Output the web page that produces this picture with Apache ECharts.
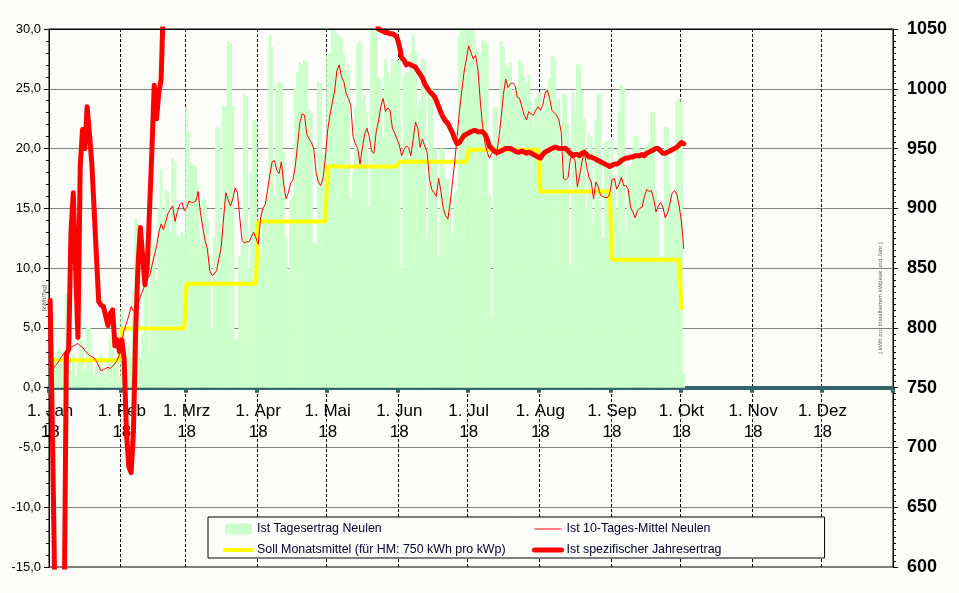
<!DOCTYPE html>
<html>
<head>
<meta charset="utf-8">
<script src="https://cdn.jsdelivr.net/npm/echarts@6/dist/echarts.min.js"></script>
<style>
  html, body { margin: 0; padding: 0; background: #fcfdf8; }
  #chart { width: 959px; height: 593px; }
</style>
</head>
<body>
<div id="chart"></div>
<script>
// Monatsanfaenge (Tag im Jahr 2018) und Beschriftung
const monthNames = ['Jan', 'Feb', 'Mrz', 'Apr', 'Mai', 'Jun', 'Jul', 'Aug', 'Sep', 'Okt', 'Nov', 'Dez'];
const monthStarts = [0, 31, 59, 90, 120, 151, 181, 212, 243, 273, 304, 334];
const yearLabel = '18';

// Ist Tagesertrag Neulen [kWh/Tag], 1. Jan .. 2. Okt
const tagesertrag = [
  // Jan
  1.8, 1.2, 2.6, 3.0, 3.3, 2.0, 3.2, 7.9, 3.5, 1.5, 2.8, 1.0, 2.2, 9.6, 4.0, 1.5, 5.1, 5.0, 2.0, 1.2,
  1.8, 1.0, 2.7, 1.5, 0.8, 2.4, 4.2, 3.5, 2.2, 2.5, 1.0,
  // Feb
  6.5, 2.0, 1.0, 3.5, 2.5, 8.0, 14.2, 7.0, 2.5, 4.5, 9.0, 8.5, 3.0, 12.5, 12.0, 9.0, 15.0, 18.3, 14.0, 16.5,
  16.4, 13.0, 19.2, 18.8, 12.8, 12.5, 13.0, 12.8,
  // Mrz
  23.5, 21.4, 18.7, 18.6, 18.5, 17.0, 12.0, 15.8, 15.7, 14.0, 11.0, 5.0, 12.5, 21.8, 21.7, 13.0, 23.6, 23.5, 29.0, 28.8,
  23.6, 4.0, 4.2, 11.0, 12.0, 24.6, 24.4, 10.0, 18.0, 22.4, 22.3,
  // Apr
  12.5, 11.5, 15.0, 15.5, 16.0, 29.5, 28.5, 16.0, 25.3, 25.6, 25.5, 19.7, 12.6, 9.5, 15.8, 16.0, 25.0, 26.4, 27.2, 27.0,
  27.4, 27.3, 23.2, 23.0, 12.2, 12.0, 25.6, 25.5, 19.6, 19.5,
  // Mai
  27.8, 28.0, 30.0, 30.0, 29.5, 29.5, 29.2, 28.0, 26.5, 27.0, 15.8, 18.0, 23.5, 28.8, 29.0, 24.0, 24.5, 23.0, 15.2, 30.0,
  30.0, 30.0, 26.0, 25.8, 21.0, 27.5, 26.4, 26.0, 27.5, 27.2, 27.4,
  // Jun
  27.4, 10.0, 26.0, 26.4, 26.4, 28.0, 29.6, 28.1, 23.5, 24.0, 27.5, 27.4, 12.5, 24.7, 25.0, 20.0, 20.0, 11.0, 20.0, 20.0,
  17.5, 17.5, 16.0, 12.8, 16.2, 16.5, 29.5, 30.0, 30.0, 30.0,
  // Jul
  30.0, 30.0, 30.0, 28.3, 28.3, 28.0, 29.0, 29.0, 28.8, 16.0, 5.9, 23.5, 23.5, 21.0, 29.0, 28.5, 27.0, 26.8, 27.2, 24.5,
  25.0, 25.2, 27.4, 27.0, 26.0, 25.5, 26.2, 24.0, 21.9, 24.3, 24.6,
  // Aug
  24.6, 23.0, 24.0, 25.0, 25.9, 27.8, 27.5, 24.0, 24.2, 19.0, 24.6, 24.5, 22.0, 10.2, 24.8, 23.2, 27.0, 27.0, 24.9, 22.6,
  15.1, 21.2, 21.0, 14.0, 22.4, 24.6, 24.5, 12.5, 20.5, 20.6, 18.0,
  // Sep
  20.8, 17.5, 15.0, 23.0, 25.3, 25.0, 13.0, 18.6, 18.5, 20.0, 21.1, 21.0, 20.0, 19.5, 20.0, 20.2, 20.5, 23.0, 23.1, 16.5,
  14.5, 10.8, 11.0, 21.8, 21.7, 17.0, 16.0, 15.5, 24.0, 24.2,
  // Okt
  23.8, 1.2
];

// Ist 10-Tages-Mittel Neulen [kWh/Tag]
const mittel10 = [
  // Jan
  1.6, 1.5, 1.8, 2.0, 2.3, 2.6, 2.9, 3.0, 3.2, 3.3, 3.5, 3.6, 3.7, 3.5, 3.4, 3.1, 2.9, 2.7, 2.6, 2.5,
  2.2, 1.8, 1.4, 1.5, 1.6, 1.7, 1.6, 1.8, 2.0, 2.3, 2.8,
  // Feb
  3.8, 4.8, 5.4, 6.0, 6.8, 6.4, 6.5, 7.0, 7.6, 8.1, 8.6, 9.2, 9.3, 10.2, 11.0, 11.8, 13.0, 13.7, 13.2, 13.9,
  14.6, 14.9, 15.2, 13.9, 14.7, 15.3, 15.5, 14.8,
  // Mrz
  15.0, 15.6, 15.5, 15.5, 15.6, 16.4, 14.6, 13.4, 12.3, 11.6, 9.8, 9.4, 9.5, 9.8, 10.8, 11.8, 14.2, 16.3, 15.7, 15.2,
  15.8, 16.7, 16.3, 14.2, 12.3, 12.1, 12.2, 12.2, 12.6, 13.0, 12.5,
  // Apr
  12.0, 14.2, 15.0, 15.3, 16.5, 17.8, 18.9, 19.0, 18.2, 17.9, 18.9, 17.0, 15.8, 16.3, 17.1, 17.4, 18.5, 20.3, 22.2, 22.9,
  22.8, 21.2, 20.8, 20.5, 20.0, 18.0, 17.2, 16.9, 17.5, 19.2,
  // Mai
  21.5, 22.8, 23.8, 24.8, 26.5, 27.0, 26.0, 25.6, 24.6, 24.2, 23.6, 21.0, 20.4, 20.0, 18.7, 20.0, 21.2, 21.7, 21.0, 19.8,
  19.6, 21.4, 22.3, 23.5, 24.2, 23.1, 23.4, 23.2, 21.7, 21.3, 20.8,
  // Jun
  20.3, 19.4, 19.9, 20.2, 20.1, 19.4, 20.8, 22.2, 21.7, 20.1, 20.8, 20.2, 19.7, 17.5, 16.6, 16.3, 16.0, 17.5, 16.4, 15.0,
  14.4, 14.1, 15.5, 17.2, 19.0, 21.0, 23.1, 24.8, 26.4, 27.5,
  // Jul
  28.6, 28.0, 27.5, 27.8, 26.6, 24.0, 21.9, 20.5, 19.7, 19.2, 19.6, 20.0, 19.4, 20.8, 22.5, 24.5, 25.8, 25.1, 25.4, 25.5,
  25.3, 24.3, 24.2, 23.5, 22.8, 22.4, 23.1, 22.9, 22.8, 23.2, 23.5,
  // Aug
  23.2, 23.6, 24.6, 24.9, 24.2, 23.2, 23.0, 22.8, 22.4, 21.4, 17.5, 17.4, 17.6, 19.2, 19.3, 19.0, 16.8, 17.8, 18.9, 19.7,
  18.5, 17.6, 17.2, 15.8, 17.2, 16.8, 16.1, 16.0, 15.9, 15.9, 16.2,
  // Sep
  17.4, 17.5, 16.6, 17.0, 17.6, 16.9, 16.9, 16.6, 15.1, 14.7, 14.2, 14.8, 15.0, 15.1, 16.0, 16.6, 16.4, 16.5, 15.8, 14.7,
  15.2, 15.5, 15.1, 14.2, 14.6, 15.4, 16.3, 16.5, 16.2, 15.2,
  // Okt
  13.9, 11.6
];

// Soll Monatsmittel [kWh/Tag], Jan .. Okt (Okt nur bis 1. Okt)
const sollMonat = [2.3, 4.95, 8.7, 13.9, 18.5, 18.9, 19.9, 16.4, 10.7, 6.5];
const sollLastDay = 273;

// Ist spezifischer Jahresertrag [kWh/kWp], null = ausserhalb des Bildes
const jahresertrag = [
  // Jan
  823, 710, 580, 480, null, null, 540, 778, 782, 880, 913, 850, 792, 935, 966, 950, 985, 962, 938, 900,
  860, 822, 819, 818, 810, 802, 812, 815, 785, 790, 780,
  // Feb
  790, 774, 712, 684, 679, 712, 800, 852, 884, 860, 836, 852, 900, 948, 1003, 975, 997, 1008, 1075, null,
  null, null, null, null, null, null, null, null,
  // Mrz
  null, null, null, null, null, null, null, null, null, null, null, null, null, null, null, null, null, null, null, null,
  null, null, null, null, null, null, null, null, null, null, null,
  // Apr
  null, null, null, null, null, null, null, null, null, null, null, null, null, null, null, null, null, null, null, null,
  null, null, null, null, null, null, null, null, null, null,
  // Mai
  null, null, null, null, null, null, null, null, null, null, null, null, null, null, null, null, null, null, null, null,
  null, 1058, 1050, 1049, 1048, 1047, 1047, 1046, 1046, 1045, 1043,
  // Jun
  1036, 1026, 1024, 1020, 1021, 1020, 1019, 1018, 1015, 1012, 1009, 1004, 1001, 998, 996, 994, 990, 985, 980, 976,
  973, 971, 967, 963, 958, 954, 955, 958, 961, 962,
  // Jul
  963, 964, 965, 965, 964, 964, 964, 962, 958, 952, 950, 948, 947, 947, 948, 949, 950, 950, 950, 949,
  948, 947, 947, 948, 947, 946, 947, 946, 945, 944, 943,
  // Aug
  942, 945, 947, 948, 949, 950, 951, 951, 950, 950, 950, 950, 948, 946, 944, 945, 945, 944, 946, 947,
  945, 943, 943, 942, 941, 940, 939, 938, 937, 936, 935,
  // Sep
  936, 937, 937, 938, 940, 941, 942, 942, 943, 943, 944, 944, 944, 945, 944, 946, 947, 948, 949, 950,
  950, 948, 946, 946, 947, 948, 949, 950, 951, 953,
  // Okt
  955, 954
];

const tagName = 'Ist Tagesertrag Neulen';
const mittelName = 'Ist 10-Tages-Mittel Neulen';
const sollName = 'Soll Monatsmittel (für HM: 750 kWh pro kWp)';
const jahrName = 'Ist spezifischer Jahresertrag';

// Tage 2018 als Kategorien
const days = [];
for (let i = 0; i < 365; i++) {
  const d = new Date(2018, 0, 1 + i);
  days.push(d.getFullYear() + '-' + (d.getMonth() + 1) + '-' + d.getDate());
}

// Soll je Tag aus den Monatswerten
const sollDaily = [];
for (let i = 0; i <= sollLastDay; i++) {
  let m = 0;
  while (m + 1 < monthStarts.length && monthStarts[m + 1] <= i) m++;
  sollDaily.push(sollMonat[m]);
}

const isMonthStart = (index) => monthStarts.indexOf(index) >= 0;
const font = "'Liberation Sans', Arial, sans-serif";
const legendText = { fontFamily: font, fontSize: 12.4, color: '#000033' };
const noSymbol = { opacity: 0 };

const chart = echarts.init(document.getElementById('chart'));
chart.setOption({
  animation: false,
  backgroundColor: '#fcfdf8',
  textStyle: { fontFamily: font },
  grid: {
    left: 49, right: 66, top: 29, bottom: 26,
    containLabel: false,
    outerBoundsMode: 'none',
    show: true, borderColor: '#000', borderWidth: 1, backgroundColor: 'transparent'
  },
  legend: [
    {
      // linke Spalte mit Rahmen ueber die ganze Legende
      left: 208, top: 517,
      orient: 'vertical',
      padding: [6, 319, 2, 15],
      itemGap: 9,
      itemWidth: 27,
      itemHeight: 11,
      selectedMode: false,
      backgroundColor: '#fdfefb',
      borderColor: '#000',
      borderWidth: 1,
      data: [
        { name: tagName },
        { name: sollName, itemStyle: noSymbol, lineStyle: { width: 4, cap: 'round' } }
      ],
      textStyle: legendText
    },
    {
      left: 532, top: 517,
      orient: 'vertical',
      padding: [6, 0, 2, 0],
      itemGap: 9,
      itemWidth: 27,
      itemHeight: 11,
      selectedMode: false,
      data: [
        { name: mittelName, itemStyle: noSymbol, lineStyle: { width: 1 } },
        { name: jahrName, itemStyle: noSymbol, lineStyle: { width: 5, cap: 'round' } }
      ],
      textStyle: legendText
    }
  ],
  xAxis: [
    {
      type: 'category',
      data: days,
      boundaryGap: true,
      axisLine: { onZero: true, lineStyle: { color: '#336666', width: 4 } },
      axisTick: { show: true, interval: isMonthStart, length: 5, lineStyle: { color: '#336666', width: 4 } },
      axisLabel: { show: false },
      splitLine: { show: true, interval: isMonthStart, lineStyle: { color: '#000', type: [3, 2], width: 1 } }
    },
    {
      type: 'category',
      data: days,
      position: 'top',
      z: 10,
      axisLine: { show: true, onZero: false, lineStyle: { color: '#000', width: 1 } },
      axisTick: { show: false },
      axisLabel: { show: false },
      splitLine: { show: false }
    },
    {
      // Beschriftung an der Nulllinie
      type: 'category',
      data: days,
      position: 'bottom',
      offset: -179.4,
      axisLine: { show: false, onZero: false },
      axisTick: { show: false },
      axisLabel: {
        interval: isMonthStart,
        formatter: (value, index) => '1. ' + monthNames[monthStarts.indexOf(index)] + '\n' + yearLabel,
        margin: 13, fontSize: 17, lineHeight: 21, color: '#000', fontFamily: font
      },
      splitLine: { show: false }
    }
  ],
  yAxis: [
    {
      type: 'value', min: -15, max: 30, interval: 5, position: 'left',
      name: '[kWh/Tag]', nameLocation: 'middle', nameRotate: 90, nameGap: 2, nameMoveOverlap: false,
      nameTextStyle: { fontSize: 6, color: '#556' },
      axisLine: { show: true, onZero: false, lineStyle: { color: '#000' } },
      axisTick: { show: true, length: 5, lineStyle: { color: '#000' } },
      minorTick: { show: true, splitNumber: 5, length: 3, lineStyle: { color: '#000' } },
      axisLabel: {
        formatter: (v) => v.toFixed(1).replace('.', ','),
        fontSize: 13, color: '#000', margin: 8, fontFamily: font
      },
      splitLine: { show: true, lineStyle: { color: '#808080', width: 1 } }
    },
    {
      type: 'value', min: 600, max: 1050, interval: 50, position: 'right',
      name: '[ kWh pro Installiertem kWpeak und Jahr ]', nameLocation: 'middle', nameRotate: 90, nameGap: -16,
      nameMoveOverlap: false,
      nameTextStyle: { fontSize: 6, color: '#665' },
      axisLine: { show: true, onZero: false, lineStyle: { color: '#000' } },
      axisTick: { show: true, length: 5, lineStyle: { color: '#000' } },
      minorTick: { show: true, splitNumber: 10, length: 3, lineStyle: { color: '#000' } },
      axisLabel: { formatter: (v) => String(v), fontSize: 18, fontWeight: 'bold', color: '#000', margin: 14, fontFamily: font },
      splitLine: { show: false }
    }
  ],
  series: [
    {
      name: tagName,
      type: 'bar',
      data: tagesertrag,
      barWidth: 2.9,
      itemStyle: { color: '#ccffcc' },
      z: 1
    },
    {
      name: sollName,
      type: 'line',
      data: sollDaily,
      symbol: 'none',
      lineStyle: { color: '#ffff00', width: 4 },
      itemStyle: { color: '#ffff00' },
      z: 3
    },
    {
      name: mittelName,
      type: 'line',
      data: mittel10,
      symbol: 'none',
      lineStyle: { color: '#ff0000', width: 1 },
      itemStyle: { color: '#ff0000' },
      z: 4
    },
    {
      name: jahrName,
      type: 'line',
      yAxisIndex: 1,
      data: jahresertrag,
      symbol: 'none',
      lineStyle: { color: '#ff0000', width: 5, cap: 'round', join: 'round' },
      itemStyle: { color: '#ff0000' },
      z: 5
    }
  ]
});
</script>
</body>
</html>
